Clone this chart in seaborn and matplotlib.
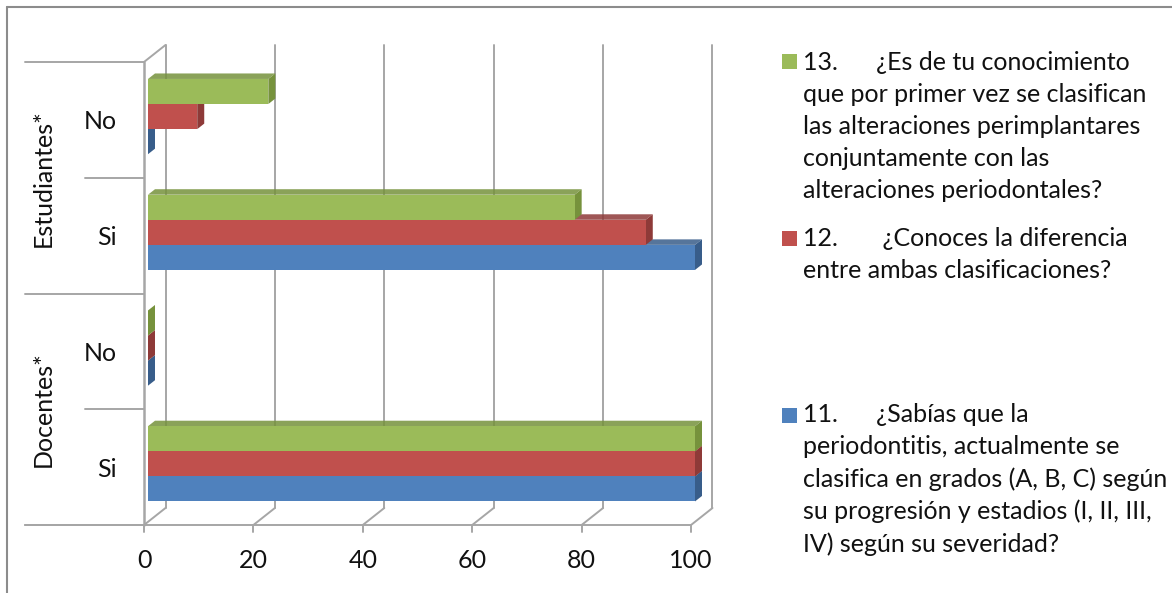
import pandas as pd
import matplotlib
matplotlib.use("Agg")
import matplotlib.pyplot as plt
import seaborn as sns
from matplotlib.patches import Polygon, Rectangle
from matplotlib.lines import Line2D
from matplotlib.transforms import ScaledTranslation

# Datos (porcentaje de respuestas)
grupos = ["Estudiantes*", "Estudiantes*", "Docentes*", "Docentes*"]
respuestas = ["No", "Si", "No", "Si"]
preguntas = ["13", "12", "11"]
p13 = [22, 78, 0, 100]
p12 = [9, 91, 0, 100]
p11 = [0, 100, 0, 100]
x_ticks = [0, 20, 40, 60, 80, 100]

colores = ["#9BBB59", "#C0504D", "#4F81BD"]
colores_osc = ["#76923C", "#8E3A38", "#385D8A"]
textos_leyenda = [
    "13.      ¿Es de tu conocimiento\nque por primer vez se clasifican\nlas alteraciones perimplantares\nconjuntamente con las\nalteraciones periodontales?",
    "12.       ¿Conoces la diferencia\nentre ambas clasificaciones?",
    "11.      ¿Sabías que la\nperiodontitis, actualmente se\nclasifica en grados (A, B, C) según\nsu progresión y estadios (I, II, III,\nIV) según su severidad?",
]

filas = []
categorias = []
for g, r, a, b, c in zip(grupos, respuestas, p13, p12, p11):
    cat = g + " " + r
    categorias.append(cat)
    for q, v in zip(preguntas, [a, b, c]):
        filas.append({"categoria": cat, "pregunta": q, "valor": v})
df = pd.DataFrame(filas)

sns.set_style("white")
plt.rcParams["font.family"] = ["Lato", "DejaVu Sans"]

W, H = 1172, 593
fig = plt.figure(figsize=(W / 100, H / 100), dpi=100)
# plano de las barras: x 0..100 -> px 148..695, y -0.5..3.5 -> px 58.7..521.7
ax = fig.add_axes([148 / W, 1 - 521.7 / H, 547 / W, 463 / H])
ax.patch.set_visible(False)

sns.barplot(data=df, y="categoria", x="valor", hue="pregunta", order=categorias,
            hue_order=preguntas, palette=colores, orient="h", width=0.65,
            saturation=1, linewidth=0, legend=False, ax=ax, zorder=3)
ax.set_xlim(0, 100)
ax.set_ylim(3.5, -0.5)
sns.despine(ax=ax, left=True, bottom=True)
ax.set_xlabel("")
ax.set_ylabel("")

ppx = 547 / 100
ppy = 463 / 4


def mover(x, y, dx, dy):
    # dx, dy en pixeles (dy hacia arriba)
    return x + dx / ppx, y - dy / ppy


def frente(x, y):
    return mover(x, y, -4, -3.3)


def fondo(x, y):
    return mover(x, y, 17.5, 13.7)


def px_a_x(p):
    return (p - 148) / ppx


gris = "#A6A6A6"


def linea(p1, p2, lw=1.4):
    ax.add_line(Line2D([p1[0], p2[0]], [p1[1], p2[1]], color=gris, lw=lw,
                       clip_on=False, zorder=1))


# pared del fondo y piso
for v in x_ticks:
    linea(fondo(v, -0.5), fondo(v, 3.5))
    linea(frente(v, 3.5), fondo(v, 3.5))
    f = frente(v, 3.5)
    linea(f, (f[0], f[1] + 7 / ppy))
linea((px_a_x(25), frente(0, 3.5)[1]), frente(100, 3.5))
# pared izquierda
linea(frente(0, -0.5), frente(0, 3.5), lw=1.8)
linea(frente(0, -0.5), fondo(0, -0.5))
# divisiones de categorias
for y in [-0.5, 1.5, 3.5]:
    linea((px_a_x(25), frente(0, y)[1]), frente(0, y))
for y in [0.5, 2.5]:
    linea((px_a_x(85), frente(0, y)[1]), frente(0, y))

# efecto 3D de las barras
dx3, dy3 = 7 / ppx, -5.5 / ppy
for nivel, cont in enumerate(ax.containers):
    z = 5 - nivel
    for bar in cont:
        bar.set_zorder(z + 0.5)
        x0, yb = bar.get_x(), bar.get_y()
        x1 = x0 + bar.get_width()
        yt, yb2 = yb, yb + bar.get_height()
        arriba = [(x0, yt), (x1, yt), (x1 + dx3, yt + dy3), (x0 + dx3, yt + dy3)]
        lado = [(x1, yt), (x1, yb2), (x1 + dx3, yb2 + dy3), (x1 + dx3, yt + dy3)]
        ax.add_patch(Polygon(arriba, closed=True, fc=colores_osc[nivel], ec="none",
                             alpha=0.85, zorder=z, clip_on=False))
        ax.add_patch(Polygon(lado, closed=True, fc=colores_osc[nivel], ec="none",
                             zorder=z, clip_on=False))

# ejes y etiquetas
ax.set_xticks(x_ticks)
ax.set_xticklabels([str(v) for v in x_ticks])
ax.set_yticks(range(len(categorias)))
ax.set_yticklabels(respuestas)
ax.tick_params(axis="x", length=0, pad=20, labelsize=18, labelcolor="#111111")
ax.tick_params(axis="y", length=0, pad=19.5, labelsize=18, labelcolor="#111111")
for lab in ax.get_xticklabels():
    lab.set_transform(lab.get_transform() + ScaledTranslation(-0.04, 0, fig.dpi_scale_trans))
for lab in ax.get_yticklabels():
    lab.set_transform(lab.get_transform() + ScaledTranslation(-0.04, -0.033, fig.dpi_scale_trans))

for nombre, yc in [("Estudiantes*", 0.5), ("Docentes*", 2.5)]:
    ax.text(px_a_x(43), frente(0, yc)[1], nombre, rotation=90, ha="center",
            va="center", fontsize=18, color="#111111", clip_on=False)

# leyenda (base de la primera linea en px, paso entre lineas 32.3 px)
bases = [69, 246, 423]
paso = 32.3
for col, txt, b in zip(colores, textos_leyenda, bases):
    fig.add_artist(Rectangle((782 / W, 1 - b / H), 15 / W, 15 / H,
                             transform=fig.transFigure, fc=col, ec="none"))
    n = txt.count("\n")
    fig.text(803 / W, 1 - (b + n * paso) / H, txt, ha="left", va="baseline",
             fontsize=18, linespacing=1.47, color="#111111")

# marco
fig.add_artist(Line2D([7 / W, 1], [1 - 7 / H, 1 - 7 / H], color="#8C8C8C", lw=1.5,
                      transform=fig.transFigure))
fig.add_artist(Line2D([7 / W, 7 / W], [0, 1 - 7 / H], color="#8C8C8C", lw=1.5,
                      transform=fig.transFigure))

fig.savefig("out.png", dpi=100, facecolor="white")
